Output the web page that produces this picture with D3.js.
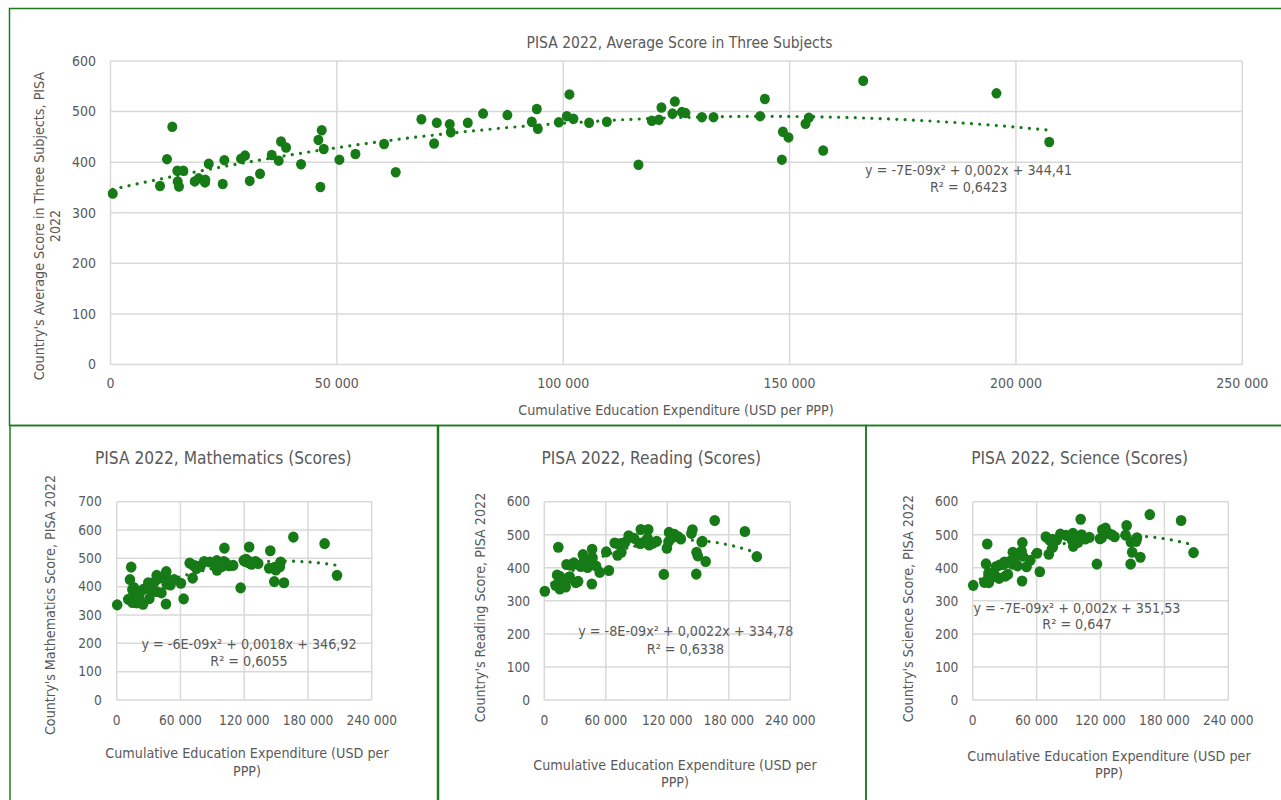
<!DOCTYPE html>
<html>
<head>
<meta charset="utf-8">
<script src="https://cdn.jsdelivr.net/npm/d3@7"></script>
<style>
  html, body { margin: 0; padding: 0; background: #ffffff; }
  svg { display: block; }
  text { font-family: 'DejaVu Sans Condensed', 'DejaVu Sans', sans-serif; font-stretch: condensed; fill: #595959; }
</style>
</head>
<body>
<svg id="chart" width="1281" height="800"></svg>
<script>
// ---------------- DATA ----------------
const expenditure = [500, 13650, 12480, 10940, 14760, 16090, 14840, 15130, 18600, 19490,
  20950, 20880, 21700, 24790, 25150, 28830, 29720, 30760, 33030, 35620,
  37160, 37670, 38780, 42090, 45920, 46660, 47110, 46360, 50560, 54100,
  60430, 63000, 68670, 72070, 71480, 74940, 75170, 78920, 82300, 87670,
  93060, 94170, 94390, 99030, 100800, 101370, 102260, 105720, 109630, 116620,
  119580, 121130, 121700, 124660, 124130, 126200, 127000, 130630, 133200, 143500,
  144540, 148520, 149760, 148300, 154270, 153520, 157430, 166270, 195700, 207360];
const avgScore = [338, 470, 406, 353, 383, 383, 362, 352, 362, 368,
  365, 360, 397, 357, 404, 407, 413, 363, 377, 414,
  403, 441, 429, 396, 444, 463, 426, 351, 405, 416,
  436, 380, 485, 478, 437, 475, 459, 478, 496, 493,
  480, 505, 466, 479, 491, 534, 486, 478, 480, 395,
  482, 484, 508, 520, 496, 499, 497, 489, 489, 491,
  525, 460, 449, 405, 488, 476, 423, 561, 536, 440];
const mathScore = [336, 469, 425, 355, 390, 397, 344, 364, 343, 366,
  368, 361, 379, 338, 391, 395, 414, 358, 389, 417,
  383, 440, 428, 378, 441, 453, 409, 339, 406, 425,
  412, 357, 483, 475, 430, 473, 464, 472, 489, 487,
  473, 492, 458, 471, 489, 536, 485, 474, 475, 396,
  493, 489, 497, 540, 484, 487, 479, 489, 482, 465,
  527, 468, 459, 418, 487, 470, 414, 575, 552, 440];
const readingScore = [329, 462, 378, 347, 374, 365, 374, 336, 365, 359,
  358, 342, 410, 373, 408, 415, 411, 355, 359, 404,
  409, 440, 428, 401, 428, 456, 430, 351, 405, 386,
  448, 392, 475, 472, 438, 473, 447, 477, 497, 489,
  474, 516, 474, 482, 489, 516, 469, 474, 480, 380,
  459, 479, 507, 500, 490, 498, 501, 494, 487, 504,
  515, 447, 436, 381, 480, 478, 419, 543, 510, 434];
const scienceScore = [347, 472, 412, 356, 384, 380, 373, 355, 373, 383,
  376, 375, 403, 368, 408, 410, 417, 375, 380, 421,
  411, 447, 428, 406, 450, 476, 435, 360, 403, 423,
  444, 388, 494, 484, 441, 486, 462, 484, 502, 498,
  485, 504, 465, 477, 494, 547, 500, 487, 492, 411,
  488, 491, 515, 520, 511, 507, 504, 500, 494, 499,
  528, 478, 447, 411, 491, 480, 432, 561, 543, 446];

const mainXTicks = [0, 50000, 100000, 150000, 200000, 250000];
const mainYTicks = [0, 100, 200, 300, 400, 500, 600];
const smallXTicks = [0, 60000, 120000, 180000, 240000];
const mathYTicks = [0, 100, 200, 300, 400, 500, 600, 700];
const sciYTicks = [0, 100, 200, 300, 400, 500, 600];

const mainTitle = "PISA 2022, Average Score in Three Subjects";
const mainYTitle = ["Country's Average Score in Three Subjects, PISA", "2022"];
const xTitle = "Cumulative Education Expenditure (USD per PPP)";
const xTitleLines = ["Cumulative Education Expenditure (USD per", "PPP)"];
const mainEquation = ["y = -7E-09x\u00B2 + 0,002x + 344,41", "R\u00B2 = 0,6423"];
const mathEquation = ["y = -6E-09x\u00B2 + 0,0018x + 346,92", "R\u00B2 = 0,6055"];
const readingEquation = ["y = -8E-09x\u00B2 + 0,0022x + 334,78", "R\u00B2 = 0,6338"];
const scienceEquation = ["y = -7E-09x\u00B2 + 0,002x + 351,53", "R\u00B2 = 0,647"];

// ---------------- STYLE ----------------
const GREEN = "#167a16";
const FRAME = "#1f7a1f";
const GRID = "#d9d9d9";

const fmt = d3.formatLocale({decimal: ",", thousands: " ", grouping: [3], currency: ["", ""]}).format(",d");

const svg = d3.select("#chart");

// least squares quadratic fit
function quadFit(xs, ys) {
  const s = [0, 0, 0, 0, 0], t = [0, 0, 0];
  xs.forEach((x0, i) => {
    const x = x0 / 1e5; let p = 1;
    for (let k = 0; k < 5; k++) { s[k] += p; p *= x; }
    t[0] += ys[i]; t[1] += ys[i] * x; t[2] += ys[i] * x * x;
  });
  const A = [[s[0], s[1], s[2], t[0]], [s[1], s[2], s[3], t[1]], [s[2], s[3], s[4], t[2]]];
  for (let i = 0; i < 3; i++) {
    for (let j = i + 1; j < 3; j++) {
      const f = A[j][i] / A[i][i];
      for (let k = i; k < 4; k++) A[j][k] -= f * A[i][k];
    }
  }
  const c = [0, 0, 0];
  for (let i = 2; i >= 0; i--) {
    let v = A[i][3];
    for (let k = i + 1; k < 3; k++) v -= A[i][k] * c[k];
    c[i] = v / A[i][i];
  }
  return x0 => { const x = x0 / 1e5; return c[0] + c[1] * x + c[2] * x * x; };
}

// frames
svg.append("rect").attr("x", 9.5).attr("y", 8.5).attr("width", 1290).attr("height", 417)
  .attr("fill", "none").attr("stroke", FRAME).attr("stroke-width", 1.5);
[[10, 437.5], [438.5, 866], [866, 1300]].forEach(([a, b]) => {
  svg.append("rect").attr("x", a).attr("y", 425.5).attr("width", b - a).attr("height", 400)
    .attr("fill", "none").attr("stroke", FRAME).attr("stroke-width", 1.5);
});

function drawPanel(cfg) {
  const g = svg.append("g");
  const x = d3.scaleLinear().domain(cfg.xDomain).range(cfg.xRange);
  const y = d3.scaleLinear().domain(cfg.yDomain).range(cfg.yRange);

  // gridlines
  g.selectAll(".vg").data(cfg.xTicks).join("line")
    .attr("x1", d => x(d)).attr("x2", d => x(d))
    .attr("y1", cfg.yRange[0]).attr("y2", cfg.yRange[1])
    .attr("stroke", GRID).attr("stroke-width", 1.5);
  g.selectAll(".hg").data(cfg.yTicks).join("line")
    .attr("y1", d => y(d)).attr("y2", d => y(d))
    .attr("x1", cfg.xRange[0]).attr("x2", cfg.xRange[1])
    .attr("stroke", GRID).attr("stroke-width", 1.5);

  // tick labels
  g.selectAll(".xt").data(cfg.xTicks).join("text")
    .attr("x", d => x(d)).attr("y", cfg.xTickY).attr("dy", "0.35em")
    .attr("text-anchor", "middle").style("font-size", cfg.tickSize + "px")
    .text(d => fmt(d));
  g.selectAll(".yt").data(cfg.yTicks).join("text")
    .attr("x", cfg.yTickX).attr("y", d => y(d)).attr("dy", "0.35em")
    .attr("text-anchor", "end").style("font-size", cfg.tickSize + "px")
    .text(d => fmt(d));

  // title
  g.append("text").attr("x", cfg.titlePos[0]).attr("y", cfg.titlePos[1]).attr("dy", "0.35em")
    .attr("text-anchor", "middle").style("font-size", cfg.titleSize + "px").text(cfg.title);

  // x title lines
  cfg.xTitle.forEach((t, i) => {
    g.append("text").attr("x", cfg.xTitlePos[0]).attr("y", cfg.xTitlePos[1] + i * cfg.xTitleGap)
      .attr("dy", "0.35em").attr("text-anchor", "middle")
      .style("font-size", cfg.axisTitleSize + "px").text(t);
  });
  // y title lines
  cfg.yTitle.forEach((t, i) => {
    const cx = cfg.yTitlePos[0] + i * cfg.yTitleGap, cy = cfg.yTitlePos[1];
    g.append("text").attr("transform", `translate(${cx},${cy}) rotate(-90)`)
      .attr("dy", "0.35em").attr("text-anchor", "middle")
      .style("font-size", cfg.axisTitleSize + "px").text(t);
  });

  // trendline
  const f = quadFit(cfg.xs, cfg.ys);
  const x0 = d3.min(cfg.xs), x1 = d3.max(cfg.xs);
  const pts = d3.range(0, 201).map(i => x0 + (x1 - x0) * i / 200);
  g.append("path")
    .attr("d", d3.line().x(d => x(d)).y(d => y(f(d)))(pts))
    .attr("fill", "none").attr("stroke", GREEN).attr("stroke-width", 3.2)
    .attr("stroke-linecap", "round").attr("stroke-dasharray", "0.01 8.3");

  // points
  g.selectAll(".pt").data(cfg.xs.map((v, i) => [v, cfg.ys[i]])).join("ellipse")
    .attr("cx", d => x(d[0])).attr("cy", d => y(d[1]))
    .attr("rx", cfg.r).attr("ry", cfg.r * 1.05)
    .attr("fill", GREEN);

  // equation
  cfg.equation.forEach((t, i) => {
    g.append("text").attr("x", cfg.eqPos[i][0]).attr("y", cfg.eqPos[i][1]).attr("dy", "0.35em")
      .attr("text-anchor", "middle").style("font-size", cfg.eqSize + "px").text(t);
  });
}

// main chart
drawPanel({
  xs: expenditure, ys: avgScore,
  xDomain: [0, 250000], xRange: [110.5, 1242.3],
  yDomain: [0, 600], yRange: [364.5, 61],
  xTicks: mainXTicks, yTicks: mainYTicks,
  xTickY: 383, yTickX: 96, tickSize: 14,
  title: mainTitle, titlePos: [679.5, 43], titleSize: 15.5,
  xTitle: [xTitle], xTitlePos: [676, 410], xTitleGap: 0,
  yTitle: mainYTitle, yTitlePos: [39, 226], yTitleGap: 16,
  axisTitleSize: 14.2,
  r: 5,
  equation: mainEquation, eqPos: [[968.6, 170], [968.6, 187.5]], eqSize: 14.2
});

// Mathematics
drawPanel({
  xs: expenditure, ys: mathScore,
  xDomain: [0, 240000], xRange: [116.7, 371.7],
  yDomain: [0, 700], yRange: [700, 501.7],
  xTicks: smallXTicks, yTicks: mathYTicks,
  xTickY: 720, yTickX: 101.7, tickSize: 13.6,
  title: "PISA 2022, Mathematics (Scores)", titlePos: [223.3, 457.7], titleSize: 17.2,
  xTitle: xTitleLines, xTitlePos: [247, 753.3], xTitleGap: 17.4,
  yTitle: ["Country's Mathematics Score, PISA 2022"], yTitlePos: [50, 605], yTitleGap: 0,
  axisTitleSize: 14.2,
  r: 5.3,
  equation: mathEquation, eqPos: [[249, 644], [249, 660.7]], eqSize: 14.2
});

// Reading
drawPanel({
  xs: expenditure, ys: readingScore,
  xDomain: [0, 240000], xRange: [544.3, 790.3],
  yDomain: [0, 600], yRange: [700, 501.7],
  xTicks: smallXTicks, yTicks: sciYTicks,
  xTickY: 720, yTickX: 530, tickSize: 13.6,
  title: "PISA 2022, Reading (Scores)", titlePos: [651.3, 457.7], titleSize: 17.2,
  xTitle: xTitleLines, xTitlePos: [675, 765], xTitleGap: 17,
  yTitle: ["Country's Reading Score, PISA 2022"], yTitlePos: [480, 607.5], yTitleGap: 0,
  axisTitleSize: 14.2,
  r: 5.3,
  equation: readingEquation, eqPos: [[685.8, 631], [685.5, 649]], eqSize: 14.2
});

// Science
drawPanel({
  xs: expenditure, ys: scienceScore,
  xDomain: [0, 240000], xRange: [972.7, 1228.3],
  yDomain: [0, 600], yRange: [700, 501.7],
  xTicks: smallXTicks, yTicks: sciYTicks,
  xTickY: 720, yTickX: 958.3, tickSize: 13.6,
  title: "PISA 2022, Science (Scores)", titlePos: [1079.7, 457.7], titleSize: 17.2,
  xTitle: xTitleLines, xTitlePos: [1109, 756], xTitleGap: 17.3,
  yTitle: ["Country's Science Score, PISA 2022"], yTitlePos: [908.3, 608.5], yTitleGap: 0,
  axisTitleSize: 14.2,
  r: 5.3,
  equation: scienceEquation, eqPos: [[1077, 608.3], [1077, 624.3]], eqSize: 14.2
});
</script>
</body>
</html>
